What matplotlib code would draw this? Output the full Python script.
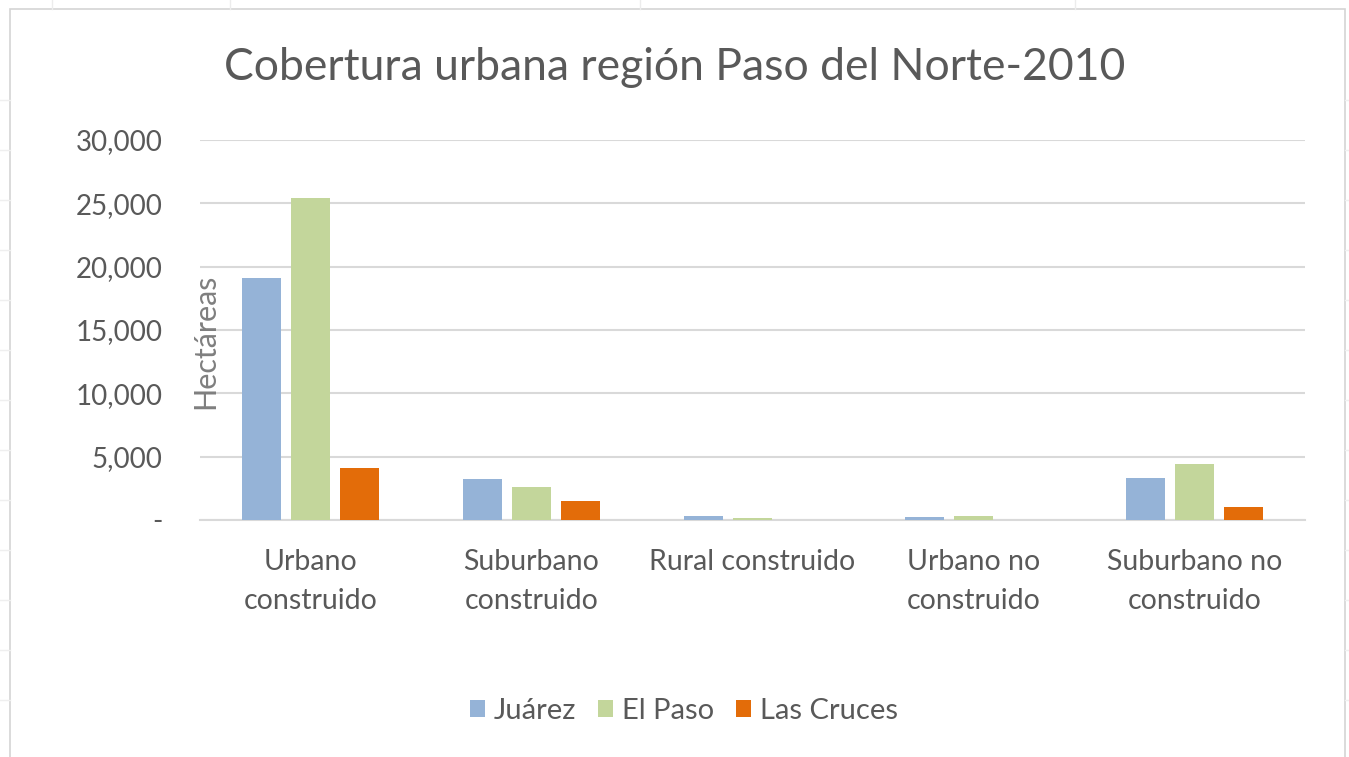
import matplotlib.pyplot as plt
import numpy as np
from matplotlib.ticker import FuncFormatter
from matplotlib.patches import Rectangle

plt.rcParams['font.family'] = ['Lato', 'DejaVu Sans']

categorias = ['Urbano\nconstruido', 'Suburbano\nconstruido', 'Rural construido',
              'Urbano no\nconstruido', 'Suburbano no\nconstruido']
series = ['Juárez', 'El Paso', 'Las Cruces']
juarez = [19100, 3250, 300, 200, 3350]
el_paso = [25400, 2600, 120, 280, 4400]
las_cruces = [4100, 1500, 0, 0, 1030]
colores = ['#95B3D7', '#C3D69B', '#E36C09']

gris = '#595959'

fig = plt.figure(figsize=(13.49, 7.57), dpi=100)
fig.patch.set_facecolor('white')

# marco del grafico y lineas de celdas de la hoja
fig.add_artist(Rectangle((10 / 1349, -0.01), 1335 / 1349, 1 - 9 / 757 + 0.01,
                         transform=fig.transFigure, fill=False,
                         edgecolor='#d4d4d4', lw=1.2))
for xc in [52, 230, 640, 1075]:
    fig.add_artist(plt.Line2D([xc / 1349] * 2, [1 - 9 / 757, 1], color='#ececec', lw=1,
                              transform=fig.transFigure))
for yc in [100, 150, 200, 250, 300, 350, 400, 450, 500, 550, 600, 650, 700]:
    fig.add_artist(plt.Line2D([0, 10 / 1349], [1 - yc / 757] * 2, color='#efefef', lw=1,
                              transform=fig.transFigure))
    fig.add_artist(plt.Line2D([1345 / 1349, 1], [1 - yc / 757] * 2, color='#efefef', lw=1,
                              transform=fig.transFigure))

ax = fig.add_axes([200 / 1349, 237 / 757, 1105 / 1349, 380 / 757])

x = np.arange(len(categorias))
ancho = 0.176
desp = 0.22
for i, (nombre, vals) in enumerate(zip(series, [juarez, el_paso, las_cruces])):
    ax.bar(x + (i - 1) * desp, vals, width=ancho, color=colores[i], label=nombre, zorder=3)

ax.set_xlim(-0.5, len(categorias) - 0.5)
ax.set_ylim(0, 30000)
ax.set_yticks(np.arange(0, 30001, 5000))
ax.yaxis.set_major_formatter(FuncFormatter(lambda v, p: '-' if v == 0 else f'{int(v):,}'))
ax.grid(axis='y', color='#d9d9d9', lw=1.5, zorder=0)
ax.set_axisbelow(True)

for s in ['top', 'right', 'left']:
    ax.spines[s].set_visible(False)
ax.spines['bottom'].set_color('#d9d9d9')
ax.spines['bottom'].set_linewidth(1.5)

ax.set_xticks(x)
ax.set_xticklabels(categorias, fontsize=20.5, color=gris, linespacing=1.6)
ax.tick_params(axis='x', length=0, pad=21)
ax.tick_params(axis='y', length=0, pad=27, labelsize=20, labelcolor=gris)

ax.text(0.005, 0.47, 'Hectáreas', transform=ax.transAxes, rotation=90,
        ha='center', va='center', fontsize=22, color='#7f7f7f')

fig.text(0.5, 1 - 68 / 757, 'Cobertura urbana región Paso del Norte-2010',
         ha='center', va='center', fontsize=32, color=gris)

fig.legend(loc='center', bbox_to_anchor=(0.507, 1 - 711 / 757), ncol=3, frameon=False,
           fontsize=21, labelcolor=gris, handlelength=0.52, handleheight=0.52,
           handletextpad=0.3, columnspacing=0.75)

fig.savefig('out.png', dpi=100, facecolor='white')
